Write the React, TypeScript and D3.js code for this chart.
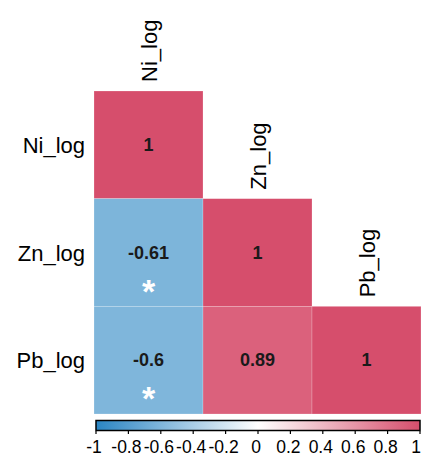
import React from 'react';
import * as d3 from 'd3';

// variables and lower-triangle correlations
const variables = ['Ni_log', 'Zn_log', 'Pb_log'];
const niRow = [1];
const znRow = [-0.61, 1];
const pbRow = [-0.6, 0.89, 1];
const rows = [niRow, znRow, pbRow];
// significant pairs (row, col) get an asterisk
const sigPairs = [
  [1, 0],
  [2, 0],
];
const legendTicks = [-1, -0.8, -0.6, -0.4, -0.2, 0, 0.2, 0.4, 0.6, 0.8, 1];

const W = 422;
const H = 464;
const font = 'Arial, "Liberation Sans", sans-serif';

const App = () => {
  const x = d3.scaleBand<string>().domain(variables).range([94, 421]);
  const y = d3.scaleBand<string>().domain(variables).range([91, 414]);
  const color = d3
    .scaleLinear<string>()
    .domain([-1, 0, 1])
    .range(['#2A85C3', '#ffffff', '#D64E6C']);
  const lx = d3.scaleLinear().domain([-1, 1]).range([96, 420]);

  const cells: { r: number; c: number; v: number }[] = [];
  rows.forEach((vals, r) => vals.forEach((v, c) => cells.push({ r, c, v })));

  const fmt = (v: number) => (v === 1 ? '1' : String(v));
  const stops = d3.range(0, 1.0001, 0.1).map((t) => ({ t, c: color(-1 + 2 * t) }));

  return (
    <svg width={W} height={H} style={{ position: 'absolute', left: 0, top: 0 }}>
      <defs>
        <linearGradient id="lg" x1="0" x2="1" y1="0" y2="0">
          {stops.map((s) => (
            <stop key={s.t} offset={s.t} stopColor={s.c} />
          ))}
        </linearGradient>
      </defs>

      {/* cells */}
      {cells.map((d) => (
        <rect
          key={`${d.r}-${d.c}`}
          x={x(variables[d.c])}
          y={y(variables[d.r])}
          width={x.bandwidth()}
          height={y.bandwidth()}
          fill={color(d.v)}
          stroke="#ffffff"
          strokeOpacity={0.35}
          strokeWidth={0.6}
        />
      ))}

      {/* values */}
      {cells.map((d) => (
        <text
          key={`t${d.r}-${d.c}`}
          x={x(variables[d.c])! + x.bandwidth() / 2}
          y={y(variables[d.r])! + y.bandwidth() / 2 + 6}
          textAnchor="middle"
          fontFamily={font}
          fontWeight="bold"
          fontSize={18}
          fill="#1a1a1a"
        >
          {fmt(d.v)}
        </text>
      ))}

      {/* significance */}
      {sigPairs.map(([r, c]) => (
        <text
          key={`s${r}-${c}`}
          x={x(variables[c])! + x.bandwidth() / 2}
          y={y(variables[r])! + y.bandwidth() / 2 + 50}
          textAnchor="middle"
          fontFamily={font}
          fontWeight="bold"
          fontSize={34}
          fill="#ffffff"
        >
          *
        </text>
      ))}

      {/* row labels */}
      {variables.map((v) => (
        <text
          key={`r${v}`}
          x={85}
          y={y(v)! + y.bandwidth() / 2 + 8}
          textAnchor="end"
          fontFamily={font}
          fontSize={22}
          fill="#000"
        >
          {v}
        </text>
      ))}

      {/* column labels */}
      {variables.map((v) => {
        const cx = x(v)! + x.bandwidth() / 2 + 8;
        const cy = y(v)! - 9;
        return (
          <text
            key={`c${v}`}
            transform={`translate(${cx},${cy}) rotate(-90)`}
            fontFamily={font}
            fontSize={22}
            fill="#000"
          >
            {v}
          </text>
        );
      })}

      {/* colour legend */}
      <rect x={96} y={420.5} width={324} height={10} fill="url(#lg)" stroke="#000" strokeWidth={1.5} />
      {legendTicks.map((t, i) => {
        const last = i === legendTicks.length - 1;
        return (
          <g key={`l${t}`}>
            <line x1={lx(t)} x2={lx(t)} y1={431} y2={434} stroke="#000" strokeWidth={1.2} />
            <text
              x={last ? 421 : lx(t) - 2}
              y={453}
              textAnchor={last ? 'end' : 'middle'}
              fontFamily={font}
              fontSize={17.5}
              fill="#000"
            >
              {t}
            </text>
          </g>
        );
      })}
    </svg>
  );
};

export default App;
